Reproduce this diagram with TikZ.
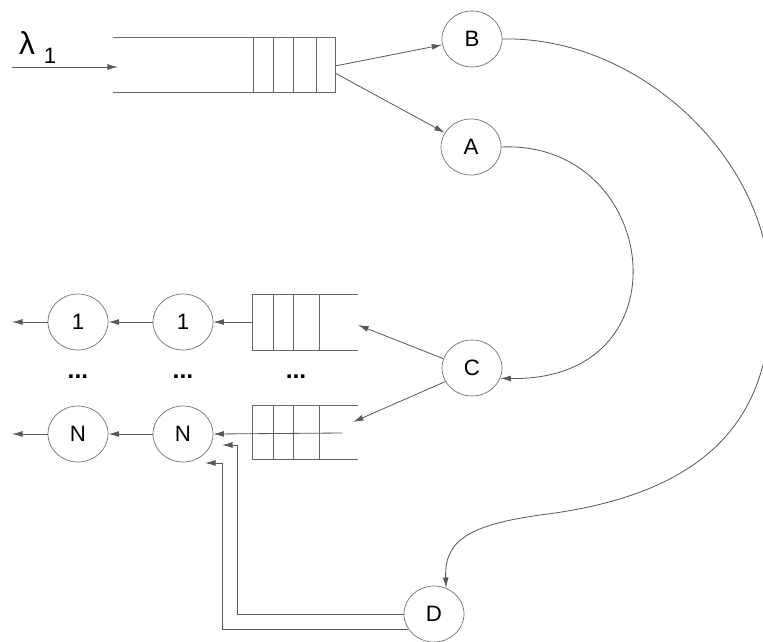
\documentclass[tikz,border=0pt]{standalone}
\usepackage{fontspec}
\setmainfont{Liberation Sans}
\usetikzlibrary{arrows.meta,shapes.geometric}
\begin{document}
\begin{tikzpicture}[x=0.03cm,y=-0.03cm,
  st/.style={ellipse,draw=black!55,line width=0.6pt,minimum width=1.8cm,minimum height=1.68cm,inner sep=0pt,font=\fontsize{19}{19}\selectfont},
  arr/.style={draw=black!65,line width=0.7pt,-{Latex[length=9pt,width=5pt]}},
  ln/.style={draw=black!60,line width=0.7pt},
  dotsty/.style={font=\fontsize{21}{21}\selectfont\bfseries}]
\useasboundingbox (0,0) rectangle (763,641);
% nodes
\node[st] (B) at (472,39) {B};
\node[st] (A) at (471,147) {A};
\node[st] (C) at (472,368) {C};
\node[st] (D) at (434,614) {D};
\node[st] (o1) at (78,322) {1};
\node[st] (s1) at (183,322) {1};
\node[st] (oN) at (78,434) {N};
\node[st] (sN) at (183,434) {N};
% input
\node[font=\fontsize{27}{27}\selectfont] (lam) at (27,43) {λ};
\node[font=\fontsize{19}{19}\selectfont] (one) at (50,56) {1};
\coordinate (lin) at (12,67);
\coordinate (lout) at (118,67);
\draw[arr] (lin) -- (lout);
% top queue
\draw[ln] (113,37) -- (335,37) -- (335,92) -- (113,92);
\foreach \x in {253,273,293,316} \draw[ln] (\x,37) -- (\x,92);
\coordinate (q1b) at (335,66);
\coordinate (q1a) at (335,73);
\draw[arr] (q1b) -- (B);
\draw[arr] (q1a) -- (A);
% curves
\draw[arr] (A.east) .. controls (660,140) and (690,382) .. (C.-20);
\draw[arr] (B.east) .. controls (640,36) and (770,160) .. (770,290)
  .. controls (775,420) and (705,495) .. (540,515)
  .. controls (470,525) and (444,540) .. (D.65);
% left queues
\draw[ln] (358,294) -- (252,294) -- (252,350) -- (358,350);
\foreach \x in {273,293,319} \draw[ln] (\x,294) -- (\x,350);
\draw[ln] (358,405) -- (252,405) -- (252,459) -- (358,459);
\foreach \x in {273,293,319} \draw[ln] (\x,405) -- (\x,459);
\coordinate (qu) at (252,322);
\coordinate (qm) at (342,433);
\coordinate (qut) at (358,325);
\coordinate (qlt) at (353,422);
\draw[arr] (C.162) -- (qut);
\draw[arr] (C.207) -- (qlt);
\draw[arr] (qu) -- (s1.east);
\draw[arr] (qm) -- (sN.east);
\coordinate (e1) at (12,322);
\coordinate (eN) at (12,434);
\draw[arr] (s1.west) -- (o1.east);
\draw[arr] (o1.west) -- (e1);
\draw[arr] (sN.west) -- (oN.east);
\draw[arr] (oN.west) -- (eN);
% dots
\node[dotsty] (d1) at (78,377) {...};
\node[dotsty] (d2) at (183,377) {...};
\node[dotsty] (d3) at (296,377) {...};
% feedback from D
\coordinate (t1) at (222,445);
\coordinate (t2) at (205,463);
\draw[arr] (D.west) -| (237,445) -- (t1);
\draw[arr] (D.210) -| (222,463) -- (t2);
\end{tikzpicture}
\end{document}
